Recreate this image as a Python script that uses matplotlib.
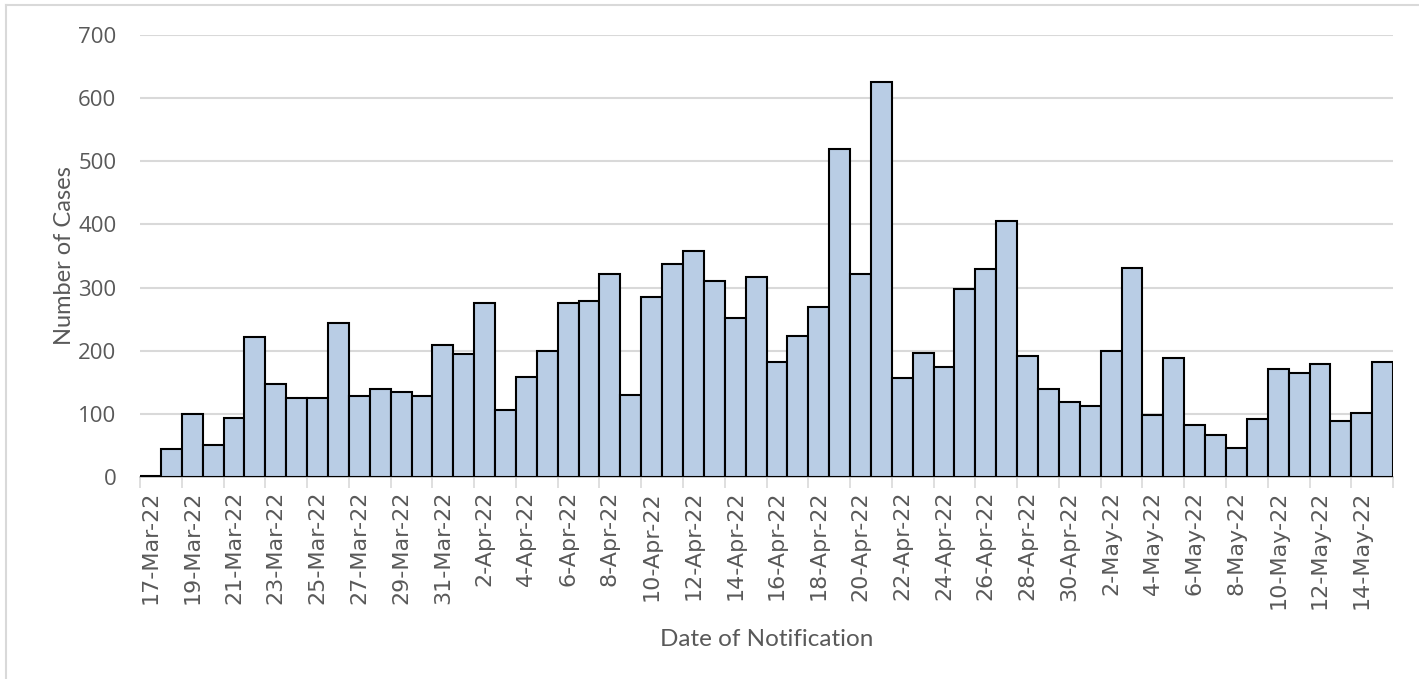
import matplotlib
matplotlib.use('Agg')
import matplotlib.pyplot as plt
import pandas as pd
from matplotlib.lines import Line2D

# daily notifications, 17-Mar-22 .. 15-May-22
start_date = '2022-03-17'
cases = [2, 44, 100, 50, 94, 222, 148, 125, 125, 244,
         129, 140, 135, 129, 209, 194, 275, 106, 158, 200,
         276, 278, 321, 130, 285, 337, 358, 311, 251, 317,
         182, 223, 269, 520, 322, 626, 156, 196, 174, 297,
         330, 406, 192, 139, 118, 112, 199, 331, 98, 188,
         83, 66, 46, 92, 171, 165, 179, 88, 102, 182]
y_ticks = [0, 100, 200, 300, 400, 500, 600, 700]

dates = pd.date_range(start_date, periods=len(cases), freq='D')
labels = [d.strftime('%-d-%b-%y') for d in dates]

grey = '#595959'
fig = plt.figure(figsize=(14.19, 6.79), dpi=100)
fig.set_facecolor('white')
ax = fig.add_axes([0.0987, 0.2975, 0.883, 0.651])

x = list(range(len(cases)))
ax.bar(x, cases, width=1.0, color='#B9CDE5', edgecolor='black', linewidth=1.5, zorder=3)

ax.set_xlim(-0.5, len(cases) - 0.5)
ax.set_ylim(0, 700)
ax.set_yticks(y_ticks)
ax.set_yticklabels([str(v) for v in y_ticks], fontsize=16, color=grey, family='Open Sans')
ax.tick_params(axis='y', length=0, pad=17)
ax.grid(axis='y', color='#D9D9D9', linewidth=1.5, zorder=0)

# labels on every 2nd bar, tick marks on the category boundaries
ax.set_xticks(x[::2])
ax.set_xticklabels(labels[::2], rotation=90, fontsize=16, color=grey, family='DejaVu Sans')
ax.tick_params(axis='x', which='major', length=0, pad=10)
ax.set_xticks([i - 0.5 for i in range(0, len(cases) + 1, 2)], minor=True)
ax.tick_params(axis='x', which='minor', length=8, width=1.2, color='#D9D9D9')

for s in ['top', 'right', 'left']:
    ax.spines[s].set_visible(False)
ax.spines['bottom'].set_color('#BFBFBF')
ax.spines['bottom'].set_linewidth(1.2)

ax.set_xlabel('Date of Notification', fontsize=17.5, color=grey, family='Lato', labelpad=14)
ax.set_ylabel('Number of Cases', fontsize=17, color=grey, family='Lato', labelpad=2)

# chart area border (left and top edges visible)
fig.add_artist(Line2D([6 / 1419, 6 / 1419], [0, 1 - 5 / 679], transform=fig.transFigure, color='#D9D9D9', linewidth=1.5))
fig.add_artist(Line2D([6 / 1419, 1], [1 - 5 / 679, 1 - 5 / 679], transform=fig.transFigure, color='#D9D9D9', linewidth=1.5))

fig.savefig('out.png', dpi=100)
